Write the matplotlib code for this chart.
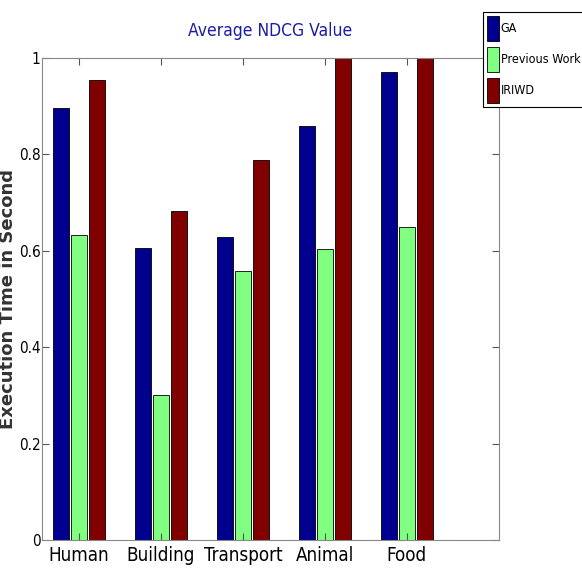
import matplotlib
matplotlib.use("Agg")
import matplotlib.pyplot as plt
from matplotlib import font_manager
from matplotlib.font_manager import FontProperties
import numpy as np

categories = ["Human", "Building", "Transport", "Animal", "Food"]
ga = [0.896, 0.606, 0.629, 0.859, 0.971]
previous_work = [0.633, 0.300, 0.558, 0.604, 0.649]
iriwd = [0.954, 0.683, 0.788, 1.0, 1.0]

# pick a narrow font if one is installed
narrow_file = None
for f in font_manager.fontManager.ttflist:
    fn = f.fname.lower()
    if "liberationsansnarrow-regular" in fn or "arialn" in fn:
        narrow_file = f.fname
        break
if narrow_file is None:
    for f in font_manager.fontManager.ttflist:
        fn = f.fname.lower()
        if "dejavusanscondensed.ttf" in fn or "robotocondensed-regular" in fn:
            narrow_file = f.fname
            break


def nfont(size):
    if narrow_file:
        return FontProperties(fname=narrow_file, size=size)
    return FontProperties(family="Liberation Sans", size=size)


fig = plt.figure(figsize=(5.82, 5.69), dpi=100)
ax = fig.add_axes([0.072, 0.051, 0.785, 0.847])

x = np.arange(1, len(categories) + 1)
w = 0.195
off = 0.22
ax.bar(x - off, ga, w, color="#00008F", edgecolor="black", linewidth=0.6, label="GA")
ax.bar(x, previous_work, w, color="#80FF80", edgecolor="black", linewidth=0.6, label="Previous Work")
ax.bar(x + off, iriwd, w, color="#800000", edgecolor="black", linewidth=0.6, label="IRIWD")

ax.set_xlim(0.55, 6.12)
ax.set_ylim(0, 1)
ax.set_xticks(x)
ax.set_xticklabels(categories, fontproperties=nfont(13.5))
ax.set_yticks([0, 0.2, 0.4, 0.6, 0.8, 1])
ax.set_yticklabels(["0", "0.2", "0.4", "0.6", "0.8", "1"], fontproperties=nfont(11))
ax.tick_params(direction="in", top=True, right=True, length=5, color="#555555", pad=1)
ax.tick_params(axis="x", pad=4)
for s in ax.spines.values():
    s.set_color("#888888")

ax.set_title("Average NDCG Value", color="#1c1ca8", fontproperties=nfont(12.5), pad=16)
ax.set_ylabel("Execution Time in Second", fontsize=13, fontweight="bold",
              family="DejaVu Sans", color="#333333")
ax.yaxis.set_label_coords(-0.055, 0.5)

leg = fig.legend(loc="upper left", bbox_to_anchor=(0.83, 0.979), prop=nfont(9),
                 fancybox=False, edgecolor="black", framealpha=1, handlelength=1.0, handleheight=2.7,
                 handletextpad=0.1, borderpad=0.3, labelspacing=0.5, borderaxespad=0)
leg.get_frame().set_linewidth(0.8)

fig.savefig("out.png", dpi=100)
